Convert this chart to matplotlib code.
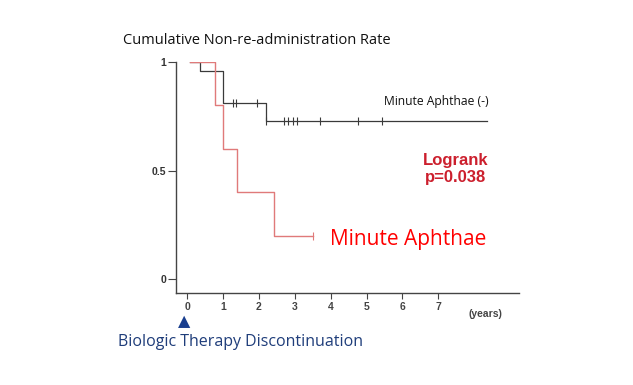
import matplotlib
matplotlib.use("Agg")
import matplotlib.pyplot as plt

# Kaplan-Meier style step data (years, rate)
aph_neg_t = [0.08, 0.36, 1.0, 2.2, 8.36]
aph_neg_s = [1.0, 0.96, 0.81, 0.73, 0.73]
aph_neg_cens = [1.28, 1.36, 1.94, 2.2, 2.69, 2.8, 2.94, 3.06, 3.69, 4.75, 5.44]

aph_t = [0.08, 0.78, 1.0, 1.39, 2.42, 3.5]
aph_s = [1.0, 0.8, 0.6, 0.4, 0.2, 0.2]
aph_cens = [3.5]

x_ticks = [0, 1, 2, 3, 4, 5, 6, 7]
y_ticks = [0, 0.5, 1]
y_labels = ["0", "0.5", "1"]

fig = plt.figure(figsize=(6.33, 3.85), dpi=100)
ax = fig.add_axes([176 / 633, 1 - 292.5 / 385, (519 - 176) / 633, (292.5 - 62) / 385])

ax.step(aph_neg_t, aph_neg_s, where="post", color="#3a3a3a", lw=0.9)
ax.step(aph_t, aph_s, where="post", color="#e07a7a", lw=1.0)

def step_val(ts, ss, x):
    v = ss[0]
    for t, s in zip(ts, ss):
        if x >= t:
            v = s
    return v

ax.plot(aph_neg_cens, [step_val(aph_neg_t, aph_neg_s, c) for c in aph_neg_cens],
        ls="none", marker="|", ms=6, mew=0.8, color="#3a3a3a")
ax.plot(aph_cens, [step_val(aph_t, aph_s, c) for c in aph_cens],
        ls="none", marker="|", ms=6, mew=0.8, color="#e07a7a")

ax.set_xlim(-0.31, 9.25)
ax.set_ylim(-0.06, 1.0)
for s in ["top", "right"]:
    ax.spines[s].set_visible(False)
for s in ["left", "bottom"]:
    ax.spines[s].set_color("#444444")
    ax.spines[s].set_linewidth(1.0)

ax.set_xticks(x_ticks)
ax.set_xticklabels([str(v) for v in x_ticks])
ax.set_yticks(y_ticks)
ax.set_yticklabels(y_labels)
ax.tick_params(axis="x", length=4, width=0.8, color="#444444", pad=3,
               labelsize=7.5, labelcolor="#444444")
ax.tick_params(axis="y", length=6, width=0.8, color="#444444", pad=1,
               labelsize=7.5, labelcolor="#333333")
for lab in ax.get_xticklabels() + ax.get_yticklabels():
    lab.set_fontweight("bold")
    lab.set_family("Liberation Sans")

fig.text(123 / 633, 1 - 40 / 385, "Cumulative Non-re-administration Rate",
         fontsize=10.5, family="Open Sans", color="#111111", va="center", ha="left")
fig.text(489 / 633, 1 - 102 / 385, "Minute Aphthae (-)", fontsize=8.7,
         family="Open Sans", color="#111111", va="center", ha="right")
fig.text(456 / 633, 1 - 169 / 385, "Logrank\np=0.038", fontsize=12,
         family="Liberation Sans", fontweight="bold", color="#cc1f2d",
         va="center", ha="center", linespacing=1.1)
fig.text(330 / 633, 1 - 240 / 385, "Minute Aphthae", fontsize=15,
         family="Open Sans", color="#ff0000", va="center", ha="left")
fig.text(485 / 633, 1 - 314 / 385, "(years)", fontsize=7.5,
         family="Liberation Sans", fontweight="bold", color="#444444",
         va="center", ha="center")
fig.text(118 / 633, 1 - 342 / 385, "Biologic Therapy Discontinuation",
         fontsize=11.5, family="Open Sans", color="#1f3d7a", va="center", ha="left")
fig.text(184 / 633, 1 - 322 / 385, "\u25B2", fontsize=11.5, family="DejaVu Sans",
         color="#1a3f8f", va="center", ha="center")

fig.savefig("out.png", dpi=100)
